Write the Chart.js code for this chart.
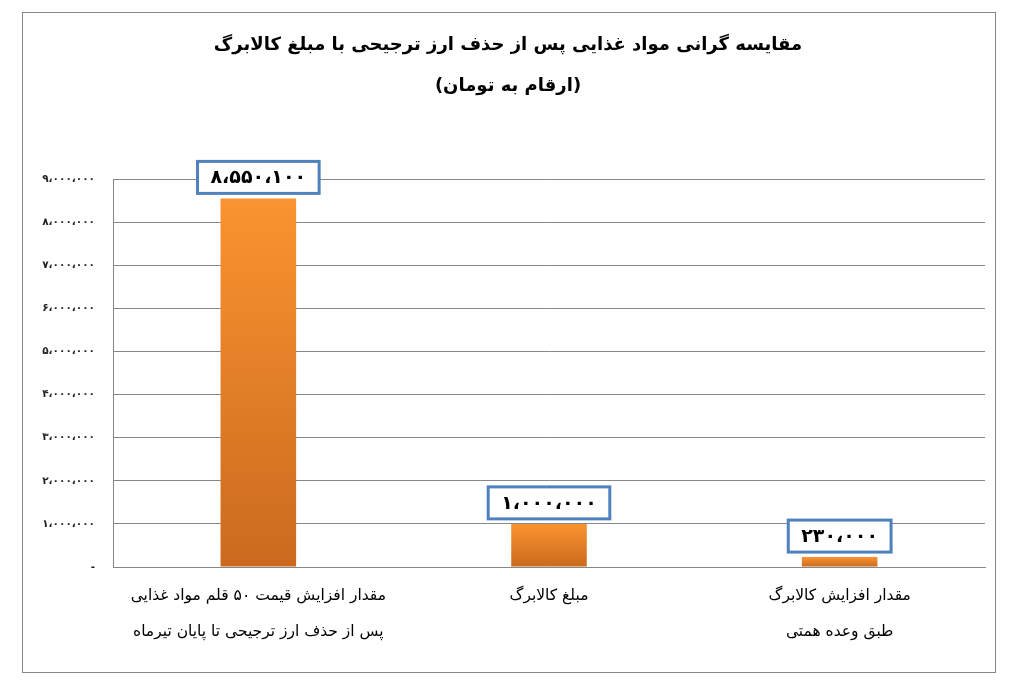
<!DOCTYPE html>
<html>
<head>
<meta charset="utf-8">
<script src="https://cdn.jsdelivr.net/npm/chart.js@4.4.1/dist/chart.umd.min.js"></script>
<style>
html,body{margin:0;padding:0;background:#fff;}
#wrap{position:absolute;left:0;top:0;width:1027px;height:683px;}
canvas{direction:rtl;}
</style>
</head>
<body>
<div id="wrap"><canvas id="c" width="1027" height="683"></canvas></div>
<script>
// ---- data ----
const titleLines = ['مقایسه گرانی مواد غذایی پس از حذف ارز ترجیحی با مبلغ کالابرگ', '(ارقام به تومان)'];
const categories = [
  ['مقدار افزایش قیمت ۵۰ قلم مواد غذایی', 'پس از حذف ارز ترجیحی تا پایان تیرماه'],
  ['مبلغ کالابرگ'],
  ['مقدار افزایش کالابرگ', 'طبق وعده همتی']
];
const values = [8550100, 1000000, 230000];
const dataLabels = ['۸،۵۵۰،۱۰۰', '۱،۰۰۰،۰۰۰', '۲۳۰،۰۰۰'];
const yTickLabels = ['-', '۱،۰۰۰،۰۰۰', '۲،۰۰۰،۰۰۰', '۳،۰۰۰،۰۰۰', '۴،۰۰۰،۰۰۰', '۵،۰۰۰،۰۰۰', '۶،۰۰۰،۰۰۰', '۷،۰۰۰،۰۰۰', '۸،۰۰۰،۰۰۰', '۹،۰۰۰،۰۰۰'];
const yMax = 9000000;
const yStep = 1000000;

const FONT = "'DejaVu Sans', sans-serif";
const GRID = '#878787';

const frameAndTitle = {
  id: 'frameAndTitle',
  beforeDraw(chart) {
    const ctx = chart.ctx;
    ctx.save();
    ctx.fillStyle = '#fff';
    ctx.fillRect(0, 0, chart.width, chart.height);
    ctx.strokeStyle = GRID;
    ctx.lineWidth = 1;
    ctx.strokeRect(22.5, 12.5, 973, 660);
    ctx.restore();
  },
  afterDraw(chart) {
    const ctx = chart.ctx;
    ctx.save();
    ctx.direction = 'rtl';
    ctx.fillStyle = '#000';
    ctx.textAlign = 'center';
    ctx.textBaseline = 'middle';
    ctx.font = 'bold 18px ' + FONT;
    ctx.fillText(titleLines[0], 508, 45);
    ctx.fillText(titleLines[1], 508, 86);
    ctx.restore();
  }
};

const boxLabels = {
  id: 'boxLabels',
  afterDatasetsDraw(chart) {
    const ctx = chart.ctx;
    const meta = chart.getDatasetMeta(0);
    ctx.save();
    ctx.font = 'bold 19px ' + FONT;
    ctx.textAlign = 'center';
    ctx.textBaseline = 'middle';
    meta.data.forEach((bar, i) => {
      const txt = dataLabels[i];
      const w = ctx.measureText(txt).width + 26;
      const h = 32;
      const x = bar.x - w / 2;
      const y = bar.y - 5 - h;
      ctx.fillStyle = '#fff';
      ctx.fillRect(x, y, w, h);
      ctx.strokeStyle = '#4F81BD';
      ctx.lineWidth = 3;
      ctx.strokeRect(x, y, w, h);
      ctx.fillStyle = '#000';
      ctx.fillText(txt, bar.x, y + h / 2 + 1);
    });
    ctx.restore();
  }
};

const ctx = document.getElementById('c').getContext('2d');
function barGradient(context) {
  const chart = context.chart;
  const area = chart.chartArea;
  if (!area || !chart.scales.y || context.raw == null) return '#E8822A';
  const top = chart.scales.y.getPixelForValue(context.raw);
  const bottom = chart.scales.y.getPixelForValue(0);
  if (!isFinite(top) || !isFinite(bottom) || bottom - top < 1) return '#E8822A';
  const g = chart.ctx.createLinearGradient(0, top, 0, bottom);
  g.addColorStop(0, '#FA9330');
  g.addColorStop(1, '#CB6A1F');
  return g;
}

new Chart(ctx, {
  type: 'bar',
  data: {
    labels: categories,
    datasets: [{
      data: values,
      backgroundColor: barGradient,
      borderWidth: 0,
      categoryPercentage: 1,
      barPercentage: 0.26
    }]
  },
  options: {
    responsive: false,
    animation: false,
    devicePixelRatio: 1,
    layout: { padding: { top: 179, right: 42, bottom: 0, left: 0 } },
    plugins: { legend: { display: false }, title: { display: false }, tooltip: { enabled: false } },
    scales: {
      x: {
        grid: { display: false, drawTicks: false },
        border: { display: true, color: GRID, width: 1 },
        ticks: {
          color: '#000',
          font: { family: FONT, size: 15.5, lineHeight: 2.3 },
          padding: 11,
          maxRotation: 0,
          autoSkip: false
        },
        afterFit(s) { s.height = 116; }
      },
      y: {
        min: 0,
        max: yMax,
        grid: { color: GRID, lineWidth: 1, drawTicks: false },
        border: { display: true, color: GRID, width: 1 },
        ticks: {
          stepSize: yStep,
          color: '#222',
          font: { family: FONT, size: 10.5, weight: 'bold' },
          padding: 18,
          callback(v) { return yTickLabels[Math.round(v / yStep)]; }
        },
        afterFit(s) { s.width = 113; }
      }
    }
  },
  plugins: [frameAndTitle, boxLabels]
});
</script>
</body>
</html>
